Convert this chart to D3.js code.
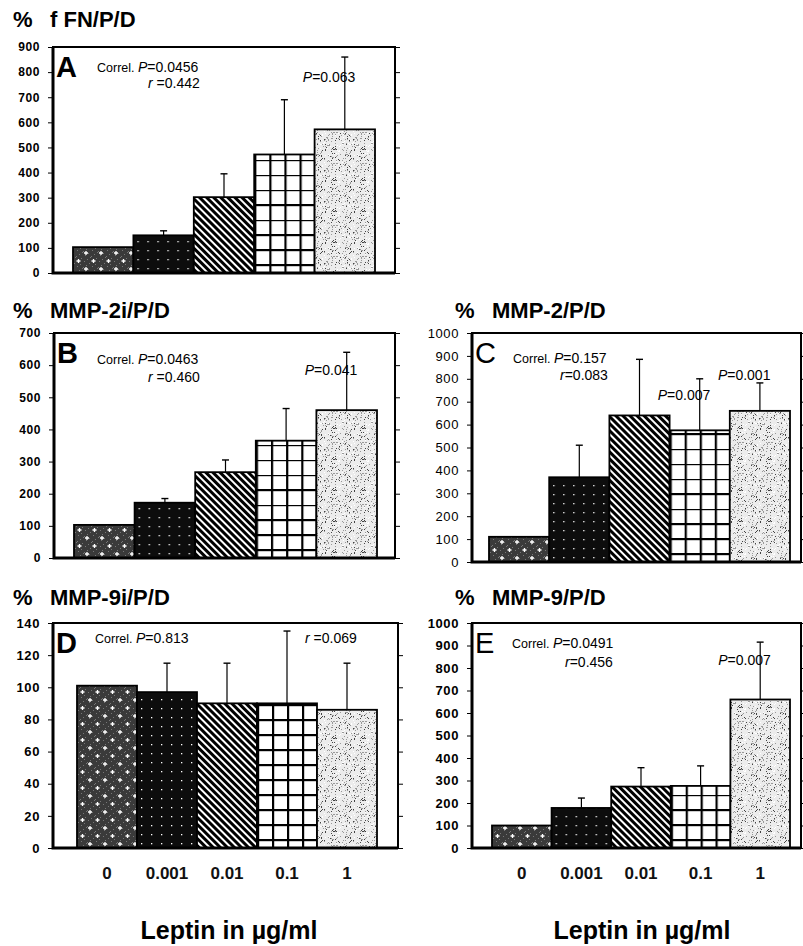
<!DOCTYPE html>
<html>
<head>
<meta charset="utf-8">
<script src="https://cdn.jsdelivr.net/npm/d3@7"></script>
<style>
  body { margin: 0; background: #fff; }
  svg { display: block; font-family: "Liberation Sans", Arial, sans-serif; }
</style>
</head>
<body>
<svg id="chart" width="803" height="946"></svg>
<script>
"use strict";

// leptin doses (x categories)
const doses = ["0", "0.001", "0.01", "0.1", "1"];

// bar heights (% of control) and error (SD)
const fnMean    = [103, 150, 302, 472, 572];
const fnSD      = [0, 18, 93, 218, 288];
const mmp2iMean = [103, 172, 267, 365, 460];
const mmp2iSD   = [0, 13, 38, 100, 180];
const mmp2Mean  = [110, 370, 640, 575, 660];
const mmp2SD    = [0, 140, 245, 225, 122];
const mmp9iMean = [101, 97, 90, 90, 86];
const mmp9iSD   = [0, 18, 25, 45, 29];
const mmp9Mean  = [100, 178, 273, 276, 660];
const mmp9SD    = [0, 44, 84, 89, 255];

// y axis tops and steps
const yMax  = [900, 700, 1000, 140, 1000];
const yStep = [100, 100, 100, 20, 100];

// panel letters, titles, stats
const letters  = ["A", "B", "C", "D", "E"];
const titles   = ["f FN/P/D", "MMP-2i/P/D", "MMP-2/P/D", "MMP-9i/P/D", "MMP-9/P/D"];
const correlP  = ["0.0456", "0.0463", "0.157", "0.813", "0.0491"];
const correlR  = ["0.442", "0.460", "0.083", "0.069", "0.456"];
const barP = [
  [null, null, null, null, "0.063"],
  [null, null, null, null, "0.041"],
  [null, null, null, "0.007", "0.001"],
  [null, null, null, null, null],
  [null, null, null, null, "0.007"]
];

// layout (pixels)
const layout = [
  {x0: 53, x1: 395, y0: 47, y1: 273, bl: 73, br: 375, tx: 13, ty: 27, lw: "bold", tf: 12, tw: "bold",
   cx: 44, cy: 25, rx: 95, ry: 41, rEq: " =", pdy: [0, 0, 0, 0, 35], xt: false},
  {x0: 54, x1: 395, y0: 333, y1: 558, bl: 74, br: 377, tx: 13, ty: 318, lw: "bold", tf: 12, tw: "bold",
   cx: 43, cy: 31, rx: 94, ry: 49, rEq: " =", pdy: [0, 0, 0, 0, 42], xt: false},
  {x0: 472, x1: 801, y0: 333, y1: 562, bl: 489, br: 790, tx: 455, ty: 318, lw: "normal", tf: 13, tw: "normal",
   cx: 41, cy: 30, rx: 88, ry: 47, rEq: "=", pdy: [0, 0, 0, 67, 47], xt: false},
  {x0: 53, x1: 398, y0: 623, y1: 848, bl: 77, br: 377, tx: 13, ty: 605, lw: "bold", tf: 13, tw: "bold",
   cx: 42, cy: 20, rx: 252, ry: 20, rEq: " =", pdy: [0, 0, 0, 0, 0], xt: true},
  {x0: 472, x1: 801, y0: 623, y1: 848, bl: 492, br: 790, tx: 455, ty: 605, lw: "normal", tf: 13, tw: "bold",
   cx: 40, cy: 25, rx: 93, ry: 44, rEq: "=", pdy: [0, 0, 0, 0, 42], xt: true}
];

const means = [fnMean, mmp2iMean, mmp2Mean, mmp9iMean, mmp9Mean];
const sds   = [fnSD, mmp2iSD, mmp2SD, mmp9iSD, mmp9SD];

const svg = d3.select("#chart");
const defs = svg.append("defs");

const makePatterns = (id, xScale, yBottom) => {
  const w = xScale.bandwidth();
  // 0: dark with white crosses
  let p = defs.append("pattern").attr("id", id + "-0").attr("patternUnits", "userSpaceOnUse")
    .attr("width", 15).attr("height", 16).attr("x", xScale(doses[0]) + 2).attr("y", yBottom);
  p.append("rect").attr("width", 15).attr("height", 16).attr("fill", "#3a3a3a");
  for (let k = 0; k < 15; k++) {
    p.append("rect").attr("x", (k * 7) % 15).attr("y", (k * 11) % 16).attr("width", 1).attr("height", 1)
      .attr("fill", "#777");
  }
  p.append("path").attr("d", "M1.5,4h4M3.5,2v4M9,12h4M11,10v4")
    .attr("stroke", "#fff").attr("stroke-width", 1.3);

  // 1: black with white dots
  p = defs.append("pattern").attr("id", id + "-1").attr("patternUnits", "userSpaceOnUse")
    .attr("width", 10).attr("height", 9).attr("x", xScale(doses[1])).attr("y", yBottom);
  p.append("rect").attr("width", 10).attr("height", 9).attr("fill", "#0d0d0d");
  p.append("rect").attr("x", 4).attr("y", 4).attr("width", 1.3).attr("height", 1.3).attr("fill", "#fff");

  // 2: diagonal stripes
  p = defs.append("pattern").attr("id", id + "-2").attr("patternUnits", "userSpaceOnUse")
    .attr("width", 5).attr("height", 5).attr("patternTransform", "rotate(-45)");
  p.append("rect").attr("width", 5).attr("height", 5).attr("fill", "#fff");
  p.append("rect").attr("width", 3).attr("height", 5).attr("fill", "#000");

  // 3: grid
  const gw = w / 4;
  p = defs.append("pattern").attr("id", id + "-3").attr("patternUnits", "userSpaceOnUse")
    .attr("width", gw).attr("height", 15).attr("x", xScale(doses[3])).attr("y", yBottom - 9);
  p.append("rect").attr("width", gw).attr("height", 15).attr("fill", "#fff");
  p.append("rect").attr("x", 0).attr("y", 0).attr("width", 2.2).attr("height", 15).attr("fill", "#000");
  p.append("rect").attr("x", 0).attr("y", 0).attr("width", gw).attr("height", 2.2).attr("fill", "#000");

  // 4: light stipple
  p = defs.append("pattern").attr("id", id + "-4").attr("patternUnits", "userSpaceOnUse")
    .attr("width", 29).attr("height", 31);
  p.append("rect").attr("width", 29).attr("height", 31).attr("fill", "#ececec");
  for (let k = 0; k < 170; k++) {
    const dx = (k * 17 + (k * k) % 13) % 29;
    const dy = (k * 23 + (k * k * 3) % 11) % 31;
    p.append("rect").attr("x", dx).attr("y", dy).attr("width", 1).attr("height", 1)
      .attr("fill", k % 4 === 0 ? "#444" : (k % 4 === 1 ? "#fff" : "#999"));
  }
};

const richText = (g, x, y, parts, size, anchor) => {
  const t = g.append("text").attr("x", x).attr("y", y).attr("font-size", size)
    .attr("text-anchor", anchor || "start").attr("fill", "#000");
  parts.forEach(pt => {
    t.append("tspan").text(pt[0])
      .attr("font-style", pt[1] ? "italic" : "normal")
      .attr("font-size", pt[2] || size);
  });
  return t;
};

const drawPanel = (i) => {
  const L = layout[i];
  const g = svg.append("g");
  const id = "pat" + letters[i];

  const xScale = d3.scaleBand().domain(doses).range([L.bl, L.br]).padding(0);
  const yScale = d3.scaleLinear().domain([0, yMax[i]]).range([L.y1, L.y0]);

  makePatterns(id, xScale, L.y1);

  const data = doses.map((d, k) => ({dose: d, k: k, mean: means[i][k], sd: sds[i][k], p: barP[i][k]}));

  // bars
  g.selectAll("rect.bar").data(data).enter().append("rect")
    .attr("class", "bar")
    .attr("x", d => xScale(d.dose))
    .attr("y", d => yScale(d.mean))
    .attr("width", xScale.bandwidth())
    .attr("height", d => yScale(0) - yScale(d.mean))
    .attr("fill", d => `url(#${id}-${d.k})`)
    .attr("stroke", "#000")
    .attr("stroke-width", 1.8);

  // error bars
  const err = g.selectAll("g.err").data(data.filter(d => d.sd > 0)).enter().append("g").attr("class", "err");
  err.append("line")
    .attr("x1", d => xScale(d.dose) + xScale.bandwidth() / 2)
    .attr("x2", d => xScale(d.dose) + xScale.bandwidth() / 2)
    .attr("y1", d => yScale(d.mean))
    .attr("y2", d => yScale(d.mean + d.sd))
    .attr("stroke", "#000").attr("stroke-width", 1.2);
  err.append("line")
    .attr("x1", d => xScale(d.dose) + xScale.bandwidth() / 2 - 3.5)
    .attr("x2", d => xScale(d.dose) + xScale.bandwidth() / 2 + 3.5)
    .attr("y1", d => yScale(d.mean + d.sd))
    .attr("y2", d => yScale(d.mean + d.sd))
    .attr("stroke", "#000").attr("stroke-width", 1.4);

  // frame
  g.append("rect")
    .attr("x", L.x0).attr("y", L.y0)
    .attr("width", L.x1 - L.x0).attr("height", L.y1 - L.y0)
    .attr("fill", "none").attr("stroke", "#000").attr("stroke-width", 2);
  g.append("path")
    .attr("d", `M${L.x0},${L.y0}V${L.y1}H${L.x1}`)
    .attr("fill", "none").attr("stroke", "#000").attr("stroke-width", 3);

  // y axis
  const ticks = d3.range(0, yMax[i] + 1, yStep[i]);
  const yAxis = d3.axisLeft(yScale).tickValues(ticks).tickFormat(d3.format("d")).tickSize(4).tickPadding(8);
  const ya = g.append("g").attr("transform", `translate(${L.x0 - 1},0)`).call(yAxis);
  ya.select(".domain").remove();
  ya.selectAll("text")
    .attr("font-family", "'Liberation Sans', Arial, sans-serif")
    .attr("font-size", L.tf).attr("font-weight", L.tw).attr("fill", "#000")
    .attr("letter-spacing", "0.6px");
  const yRight = d3.axisRight(yScale).tickValues(ticks).tickSize(4).tickFormat("");
  const yr = g.append("g").attr("transform", `translate(${L.x1 + 1},0)`).call(yRight);
  yr.select(".domain").remove();

  // x axis (bottom row only)
  if (L.xt) {
    const xAxis = d3.axisBottom(xScale).tickSize(0).tickPadding(19);
    const xa = g.append("g").attr("transform", `translate(0,${L.y1})`).call(xAxis);
    xa.select(".domain").remove();
    xa.selectAll("text")
      .attr("font-family", "'Liberation Sans', Arial, sans-serif")
      .attr("font-size", 17).attr("font-weight", "bold").attr("fill", "#111");
  }

  // titles
  g.append("text").attr("x", L.tx).attr("y", L.ty).attr("font-size", 22).attr("font-weight", "bold").text("%");
  g.append("text").attr("x", L.tx + 37).attr("y", L.ty).attr("font-size", 22).attr("font-weight", "bold")
    .text(titles[i]);

  // panel letter
  g.append("text").attr("x", L.x0 + 3).attr("y", L.y0 + 30)
    .attr("font-size", 29).attr("font-weight", L.lw === "bold" ? "bold" : "normal")
    .text(letters[i]);

  // correlation text
  richText(g, L.x0 + L.cx, L.y0 + L.cy, [["Correl. ", false, 12.5], ["P", true], ["=" + correlP[i]]], 14);
  richText(g, L.x0 + L.rx, L.y0 + L.ry, [["r", true], [L.rEq + correlR[i]]], 14);

  // per-bar P values
  data.filter(d => d.p).forEach(d => {
    const cxp = xScale(d.dose) + xScale.bandwidth() / 2;
    richText(g, cxp - 42, L.y0 + L.pdy[d.k], [["P", true], ["=" + d.p]], 14);
  });
};

for (let i = 0; i < 5; i++) drawPanel(i);

// x axis captions
svg.append("text").attr("x", 229).attr("y", 939).attr("text-anchor", "middle")
  .attr("font-size", 25).attr("font-weight", "bold").text("Leptin in \u00b5g/ml");
svg.append("text").attr("x", 642).attr("y", 939).attr("text-anchor", "middle")
  .attr("font-size", 25).attr("font-weight", "bold").text("Leptin in \u00b5g/ml");
</script>
</body>
</html>
